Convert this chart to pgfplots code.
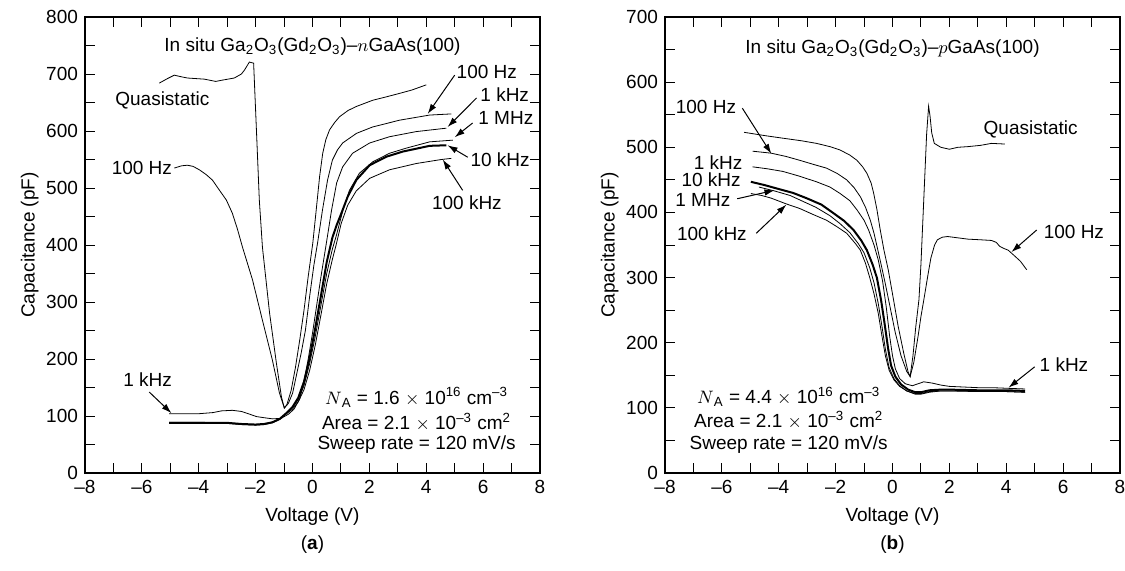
\documentclass[border=0pt]{standalone}
\usepackage{fontspec}
\setmainfont{Liberation Sans}
\usepackage{pgfplots}
\pgfplotsset{compat=1.18}
\usetikzlibrary{arrows.meta}

% one C-V panel
\pgfplotsset{cvpanel/.style={
  scale only axis, width=227.5pt, height=228pt,
  axis line style={line width=1.4pt},
  tick style={line width=0.5pt, black},
  major tick length=5pt, minor tick length=5pt,
  tick align=inside,
  xmin=-8, xmax=8, xtick={-8,-6,...,8},
  xticklabels={–8,–6,–4,–2,0,2,4,6,8},
  minor x tick num=1, minor y tick num=1,
  /pgf/number format/assume math mode=true,
  ticklabel style={font=\fontsize{9.5}{11}\selectfont},
  label style={font=\fontsize{9.5}{11}\selectfont},
  ylabel style={yshift=-3pt},
  xlabel={Voltage (V)}, ylabel={Capacitance (pF)},
  cycle list={{black, solid, mark=none, line width=1pt, line join=round}},
  clip=false,
}}
\tikzset{lbl/.style={font=\fontsize{9.5}{11}\selectfont, inner sep=0pt},
  arr/.style={-{Latex[length=5pt,width=3.2pt]}, line width=0.5pt}}

\begin{document}
\begin{tikzpicture}
\useasboundingbox (0,0) rectangle (562.5pt,285pt);

% ---------- (a) n-GaAs ----------
\begin{axis}[cvpanel, at={(42.5pt,48.5pt)}, anchor=south west,
  ymin=0, ymax=800, ytick={0,100,...,800}]
% quasistatic
\addplot coordinates {(-5.39,684) (-5.1,692) (-4.86,698) (-4.6,695) (-4.40,693) (-3.8,691) (-3.4,687) (-3.20,689) (-2.75,693) (-2.5,700) (-2.39,707) (-2.22,721) (-2.07,719) (-1.97,600) (-1.87,479) (-1.76,396) (-1.51,281) (-1.27,193) (-1.09,133) (-0.99,114) (-0.9,120) (-0.75,145) (-0.6,185) (-0.45,233) (-0.3,285) (-0.15,345) (0.01,403) (0.13,461) (0.25,520) (0.36,561) (0.47,585) (0.6,602) (0.78,615) (0.95,625) (1.25,636) (1.54,643) (2.12,654) (2.6,660) (3.06,666) (3.5,672) (4.0,681)};
% 100 Hz
\addplot coordinates {(-4.86,535) (-4.6,539) (-4.40,540) (-4.2,538) (-3.98,532) (-3.75,524) (-3.52,514) (-3.27,496) (-3.03,479) (-2.82,456) (-2.64,428) (-2.46,396) (-2.11,339) (-1.76,268) (-1.41,198) (-1.16,140) (-0.99,114) (-0.85,122) (-0.7,140) (-0.55,175) (-0.4,210) (-0.25,250) (-0.1,310) (0.05,365) (0.18,404) (0.35,461) (0.53,514) (0.70,549) (0.88,567) (1.06,579) (1.55,596) (2.11,607) (3.06,619) (4.12,628) (4.88,630)};
% 1 kHz
\addplot coordinates {(-5.04,104) (-4.5,104) (-4.0,104) (-3.5,106) (-3.2,109) (-2.82,110) (-2.5,108) (-2.2,103) (-1.97,99) (-1.7,97) (-1.4,95) (-1.1,96) (-0.85,103) (-0.65,112) (-0.45,130) (-0.3,160) (-0.15,200) (0.0,245) (0.15,295) (0.3,345) (0.49,404) (0.67,461) (0.85,509) (1.06,537) (1.41,561) (2.01,579) (2.71,590) (3.65,599) (4.71,605)};
% 10 kHz
\addplot coordinates {(-5.04,88) (-4.0,88) (-3.0,88) (-2.5,86) (-2.0,85) (-1.7,86) (-1.41,89) (-1.15,95) (-0.92,105) (-0.7,116) (-0.5,132) (-0.3,160) (-0.1,202) (0.1,255) (0.3,312) (0.5,370) (0.7,413) (0.85,435) (1.01,455) (1.24,485) (1.54,514) (2.01,540) (2.6,555) (3.18,564) (4.12,574) (4.71,575)};
% 1 MHz
\addplot coordinates {(-5.04,89) (-4.0,89) (-3.0,88) (-2.5,86) (-2.0,85) (-1.7,86) (-1.41,89) (-1.15,95) (-0.92,105) (-0.7,115) (-0.5,129) (-0.3,153) (-0.1,192) (0.1,240) (0.3,295) (0.5,350) (0.7,393) (0.83,415) (1.07,461) (1.30,496) (1.65,526) (2.12,546) (2.71,561) (3.30,570) (4.12,581) (4.94,584)};
% 100 kHz
\addplot coordinates {(-5.04,87) (-4.0,87) (-3.0,87) (-2.5,85) (-2.0,84) (-1.7,85) (-1.41,88) (-1.15,94) (-0.92,104) (-0.7,112) (-0.5,125) (-0.3,146) (-0.1,180) (0.1,225) (0.3,278) (0.5,332) (0.7,375) (0.83,400) (1.01,438) (1.24,470) (1.54,495) (2.01,517) (2.71,532) (3.65,543) (4.53,550) (4.88,552)};

\node[lbl] at (axis cs:0,749) {In situ Ga\textsubscript{2}O\textsubscript{3}(Gd\textsubscript{2}O\textsubscript{3})–$n$GaAs(100)};
\node[lbl] at (axis cs:-5.28,654) {Quasistatic};
\node[lbl] at (axis cs:-6.0,535) {100 Hz};
\node[lbl] at (axis cs:6.13,703) {100 Hz};
\draw[arr] (axis cs:5.0,698) -- (axis cs:4.05,630);
\node[lbl] at (axis cs:6.76,663) {1 kHz};
\draw[arr] (axis cs:5.77,658) -- (axis cs:4.75,607);
\node[lbl] at (axis cs:6.8,623) {1 MHz};
\draw[arr] (axis cs:5.63,614) -- (axis cs:5.0,589);
\node[lbl] at (axis cs:6.6,549) {10 kHz};
\draw[arr] (axis cs:5.46,554) -- (axis cs:4.75,575);
\node[lbl] at (axis cs:5.43,475) {100 kHz};
\draw[arr] (axis cs:5.28,496) -- (axis cs:4.58,550);
\node[lbl] at (axis cs:-5.8,163) {1 kHz};
\draw[arr] (axis cs:-5.74,142) -- (axis cs:-4.96,105);
\node[lbl] at (axis cs:3.66,133) {$N$\textsubscript{A} = 1.6 $\times$ 10\textsuperscript{16} cm\textsuperscript{–3}};
\node[lbl] at (axis cs:3.66,89) {Area = 2.1 $\times$ 10\textsuperscript{–3} cm\textsuperscript{2}};
\node[lbl] at (axis cs:3.66,49) {Sweep rate = 120 mV/s};
\node[lbl] at (rel axis cs:0.5,0) [yshift=-36pt] {(\textbf{a})};
\end{axis}

% ---------- (b) p-GaAs ----------
\begin{axis}[cvpanel, at={(332.5pt,48.5pt)}, anchor=south west,
  ymin=0, ymax=700, ytick={0,100,...,700}]
% quasistatic
\addplot coordinates {(-5.22,523) (-4.5,518) (-3.86,514) (-3.2,510) (-2.67,506) (-2.2,501) (-1.85,496) (-1.5,488) (-1.25,480) (-1.05,470) (-0.90,460) (-0.75,445) (-0.66,429) (-0.55,405) (-0.43,373) (-0.3,342) (-0.15,312) (0.0,275) (0.2,225) (0.4,183) (0.55,155) (0.62,148) (0.72,180) (0.82,225) (0.93,266) (1.0,320) (1.1,420) (1.2,520) (1.27,563) (1.32,548) (1.38,522) (1.47,506) (1.7,500) (2.0,497) (2.3,500) (2.65,501) (3.1,503) (3.48,506) (3.95,505)};
% 100 Hz
\addplot coordinates {(-4.92,494) (-4.27,491) (-3.75,486) (-3.26,480) (-2.8,474) (-2.32,468) (-1.95,460) (-1.61,450) (-1.35,438) (-1.13,424) (-0.95,408) (-0.78,388) (-0.65,368) (-0.54,347) (-0.4,320) (-0.25,290) (-0.1,258) (0.1,215) (0.3,180) (0.5,156) (0.62,148) (0.75,170) (0.9,210) (1.0,240) (1.11,268) (1.25,305) (1.35,330) (1.48,350) (1.58,358) (1.75,362) (1.94,363) (2.3,361) (2.65,359) (3.1,358) (3.48,357) (3.65,354) (3.77,348) (3.9,345) (4.07,342) (4.30,333) (4.5,325) (4.72,312)};
% 1 kHz
\addplot coordinates {(-4.92,470) (-4.4,467) (-3.86,463) (-3.3,456) (-2.67,447) (-2.2,439) (-1.84,429) (-1.5,418) (-1.25,404) (-1.0,388) (-0.84,373) (-0.65,350) (-0.5,327) (-0.35,295) (-0.22,255) (-0.1,210) (0.0,180) (0.1,160) (0.25,145) (0.45,137) (0.7,134) (0.9,137) (1.1,140) (1.4,138) (1.7,135) (2.0,133) (2.5,132) (3.0,131) (3.5,131) (4.07,130) (4.66,129)};
% 10 kHz
\addplot coordinates {(-4.98,447) (-4.5,442) (-4.09,437) (-3.5,430) (-3.03,422) (-2.5,412) (-2.08,399) (-1.7,387) (-1.37,373) (-1.1,357) (-0.9,342) (-0.7,320) (-0.55,300) (-0.4,265) (-0.28,230) (-0.15,190) (-0.05,165) (0.1,148) (0.3,136) (0.55,128) (0.8,124) (1.0,124) (1.3,127) (1.7,128) (2.0,128) (3.0,127) (4.0,127) (4.66,126)};
% 1 MHz
\addplot coordinates {(-4.7,439) (-4.15,433) (-3.6,426) (-3.2,418) (-2.7,408) (-2.2,395) (-1.85,383) (-1.5,369) (-1.2,352) (-1.0,338) (-0.8,315) (-0.65,292) (-0.5,260) (-0.37,225) (-0.25,190) (-0.12,162) (0.05,145) (0.25,134) (0.5,126) (0.8,122) (1.0,122) (1.3,125) (1.7,126) (2.0,126) (3.0,126) (4.0,125) (4.66,124)};
% 100 kHz
\addplot coordinates {(-4.98,429) (-4.6,426) (-4.27,422) (-3.73,413) (-3.26,406) (-2.8,397) (-2.32,388) (-1.95,378) (-1.61,368) (-1.3,352) (-1.13,342) (-0.95,322) (-0.8,300) (-0.65,275) (-0.5,245) (-0.37,210) (-0.25,180) (-0.12,158) (0.05,143) (0.25,133) (0.5,126) (0.8,121) (1.0,121) (1.3,124) (1.7,126) (2.0,126) (3.0,125) (4.0,125) (4.66,124)};

\node[lbl] at (axis cs:0,652) {In situ Ga\textsubscript{2}O\textsubscript{3}(Gd\textsubscript{2}O\textsubscript{3})–$p$GaAs(100)};
\node[lbl] at (axis cs:4.86,527) {Quasistatic};
\node[lbl] at (axis cs:-6.56,562) {100 Hz};
\draw[arr] (axis cs:-5.28,560) -- (axis cs:-4.26,490);
\node[lbl] at (axis cs:-6.13,476) {1 kHz};
\node[lbl] at (axis cs:-6.38,450) {10 kHz};
\node[lbl] at (axis cs:-6.67,419) {1 MHz};
\draw[arr] (axis cs:-5.46,421) -- (axis cs:-4.15,434);
\node[lbl] at (axis cs:-6.35,368) {100 kHz};
\draw[arr] (axis cs:-4.79,368) -- (axis cs:-3.73,412);
\node[lbl] at (axis cs:6.38,370) {100 Hz};
\draw[arr] (axis cs:5.07,373) -- (axis cs:4.18,339);
\node[lbl] at (axis cs:6.03,166) {1 kHz};
\draw[arr] (axis cs:5.0,163) -- (axis cs:4.08,131);
\node[lbl] at (axis cs:-3.65,117) {$N$\textsubscript{A} = 4.4 $\times$ 10\textsuperscript{16} cm\textsuperscript{–3}};
\node[lbl] at (axis cs:-3.65,81) {Area = 2.1 $\times$ 10\textsuperscript{–3} cm\textsuperscript{2}};
\node[lbl] at (axis cs:-3.65,43) {Sweep rate = 120 mV/s};
\node[lbl] at (rel axis cs:0.5,0) [yshift=-36pt] {(\textbf{b})};
\end{axis}
\end{tikzpicture}
\end{document}
